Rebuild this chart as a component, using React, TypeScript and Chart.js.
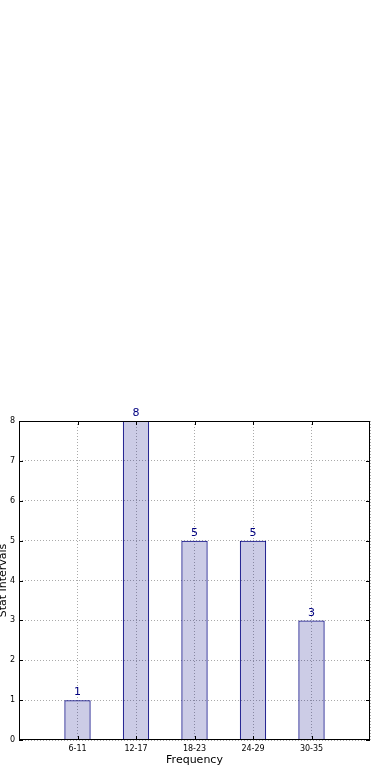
import React, { useEffect, useRef } from "react";
import { Chart, registerables } from "chart.js";

Chart.register(...registerables);

const categories = ["6-11", "12-17", "18-23", "24-29", "30-35"];
const values = [1, 8, 5, 5, 3];
const yTicks = [0, 1, 2, 3, 4, 5, 6, 7, 8];

const FONT = "'DejaVu Sans', sans-serif";
const NAVY = "#000080";

const framePlugin = {
  id: "frame",
  afterDatasetsDraw(chart: any) {
    const { ctx, chartArea } = chart;
    const { left, right, top, bottom } = chartArea;
    ctx.save();
    ctx.setLineDash([]);
    ctx.strokeStyle = "#000";
    ctx.lineWidth = 1;
    ctx.strokeRect(left + 0.5, top + 0.5, right - left - 1, bottom - top - 1);
    // inward ticks
    const ys = chart.scales.y;
    const xs = chart.scales.x;
    ctx.beginPath();
    yTicks.forEach((v) => {
      const py = Math.round(ys.getPixelForValue(v)) + 0.5;
      ctx.moveTo(left, py);
      ctx.lineTo(left + 4, py);
      ctx.moveTo(right, py);
      ctx.lineTo(right - 4, py);
    });
    categories.forEach((_, i) => {
      const px = Math.round(xs.getPixelForValue(i + 1)) + 0.5;
      ctx.moveTo(px, bottom);
      ctx.lineTo(px, bottom - 4);
      ctx.moveTo(px, top);
      ctx.lineTo(px, top + 4);
    });
    ctx.stroke();
    // value labels
    const meta = chart.getDatasetMeta(0);
    ctx.fillStyle = NAVY;
    ctx.font = `11px ${FONT}`;
    ctx.textAlign = "center";
    ctx.textBaseline = "bottom";
    meta.data.forEach((bar: any, i: number) => {
      const v = chart.data.datasets[0].data[i];
      if (v === null || v === undefined) return;
      ctx.fillText(String(v), bar.x, bar.y - 2);
    });
    ctx.restore();
  },
};

export default function App() {
  const ref = useRef<HTMLCanvasElement>(null);
  useEffect(() => {
    if (!ref.current) return;
    const labels = ["", ...categories, ""];
    const data = [null, ...values, null];
    const chart = new Chart(ref.current, {
      type: "bar",
      data: {
        labels,
        datasets: [
          {
            data,
            backgroundColor: "rgba(0,0,128,0.2)",
            borderColor: NAVY,
            borderWidth: 1,
            barPercentage: 0.45,
            categoryPercentage: 1,
          },
        ],
      },
      options: {
        responsive: false,
        animation: false,
        layout: { padding: { left: 0, top: 421, right: 20, bottom: 13 } },
        plugins: { legend: { display: false }, tooltip: { enabled: false } },
        scales: {
          x: {
            offset: false,
            grid: {
              display: true,
              offset: false,
              color: "#aaa",
              lineWidth: 1,
              drawTicks: false,
            },
            border: { display: false, dash: [1, 2] },
            ticks: {
              color: "#000",
              font: { family: FONT, size: 8 },
              padding: 4,
              autoSkip: false,
              maxRotation: 0,
            },
            title: {
              display: true,
              text: "Frequency",
              color: "#000",
              font: { family: FONT, size: 11 },
              padding: { top: 0, bottom: 0 },
            },
            afterFit(scale: any) {
              scale.height = 27;
            },
          },
          y: {
            min: 0,
            max: 8,
            grid: {
              display: true,
              color: "#aaa",
              lineWidth: 1,
              drawTicks: false,
            },
            border: { display: false, dash: [1, 2] },
            ticks: {
              stepSize: 1,
              color: "#000",
              font: { family: FONT, size: 8 },
              padding: 4,
            },
            title: {
              display: true,
              text: "Stat Intervals",
              color: "#000",
              font: { family: FONT, size: 11 },
              padding: { top: -3, bottom: 0 },
            },
            afterFit(scale: any) {
              scale.width = 19;
            },
          },
        },
      },
      plugins: [framePlugin],
    });
    return () => chart.destroy();
  }, []);
  return (
    <div style={{ position: "fixed", left: 0, top: 0, width: 390, height: 780, background: "#fff" }}>
      <canvas ref={ref} width={390} height={780} style={{ display: "block" }} />
    </div>
  );
}
